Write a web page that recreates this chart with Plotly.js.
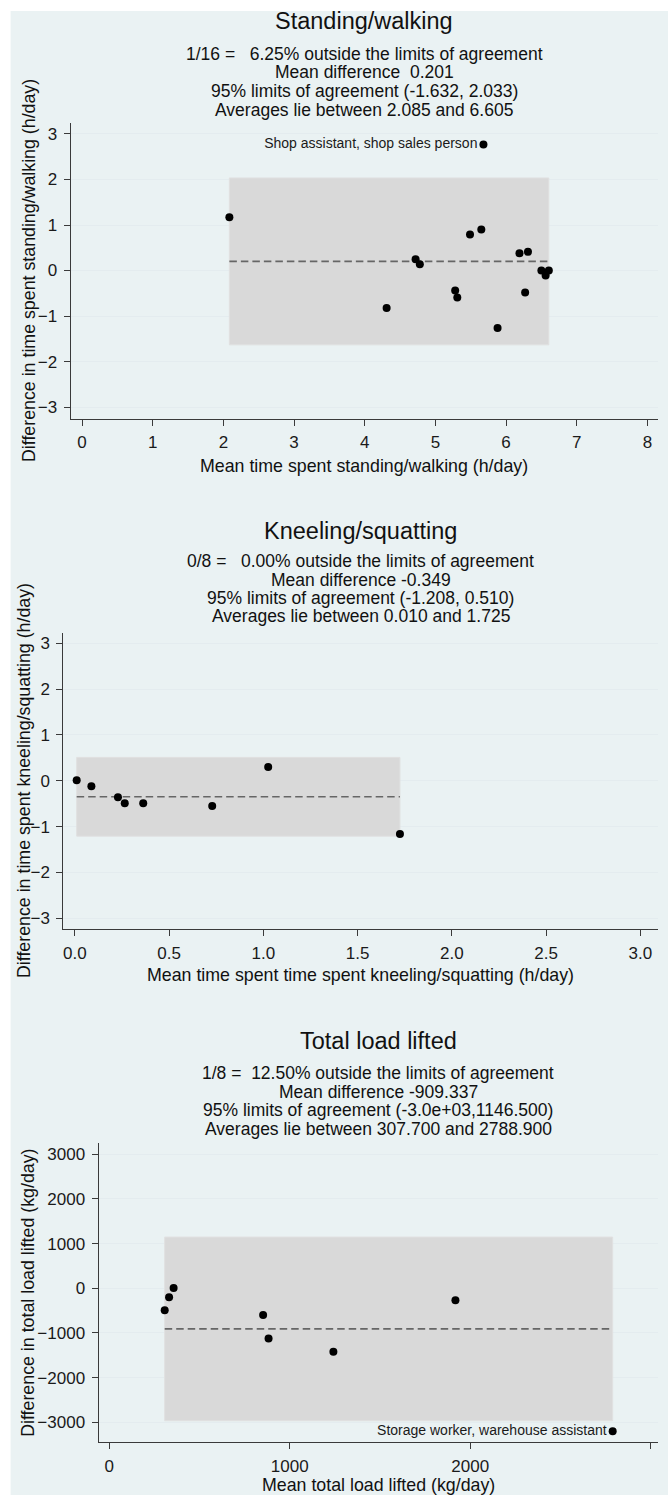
<!DOCTYPE html>
<html><head><meta charset="utf-8">
<script src="https://cdn.plot.ly/plotly-3.0.1.min.js"></script>
<style>html,body{margin:0;padding:0;background:#fff;overflow:hidden}</style>
</head><body><div id="chart" style="width:668px;height:1495px"></div>
<script>
const W = 668, H = 1495;
const NB = "\u00a0";

// ---- Panel 1: Standing/walking ----
const swTitle = "Standing/walking";
const swLines = ["1/16 =" + NB + NB + " 6.25% outside the limits of agreement", "Mean difference " + NB + "0.201", "95% limits of agreement (-1.632, 2.033)", "Averages lie between 2.085 and 6.605"];
const swMean = [5.68, 2.085, 4.31, 4.72, 4.78, 5.28, 5.31, 5.49, 5.65, 5.88, 6.19, 6.31, 6.27, 6.50, 6.56, 6.605];
const swDiff = [2.77, 1.17, -0.82, 0.25, 0.14, -0.44, -0.59, 0.79, 0.90, -1.26, 0.38, 0.41, -0.48, 0.00, -0.11, 0.00];
const swLabels = ["Shop assistant, shop sales person", "", "", "", "", "", "", "", "", "", "", "", "", "", "", ""];
const swMeanDiff = 0.201;
const swLimits = [-1.632, 2.033];
const swAvgRange = [2.085, 6.605];
const swXTicks = [0, 1, 2, 3, 4, 5, 6, 7, 8];
const swYTicks = [-3, -2, -1, 0, 1, 2, 3];
const swXTitle = "Mean time spent standing/walking (h/day)";
const swYTitle = "Difference in time spent standing/walking (h/day)";

// ---- Panel 2: Kneeling/squatting ----
const ksTitle = "Kneeling/squatting";
const ksLines = ["0/8 =" + NB + NB + " 0.00% outside the limits of agreement", "Mean difference -0.349", "95% limits of agreement (-1.208, 0.510)", "Averages lie between 0.010 and 1.725"];
const ksMean = [0.010, 0.088, 0.229, 0.265, 0.363, 0.729, 1.026, 1.725];
const ksDiff = [0.01, -0.12, -0.36, -0.49, -0.49, -0.55, 0.30, -1.16];
const ksMeanDiff = -0.349;
const ksLimits = [-1.208, 0.510];
const ksAvgRange = [0.010, 1.725];
const ksXTicks = [0, 0.5, 1, 1.5, 2, 2.5, 3];
const ksYTicks = [-3, -2, -1, 0, 1, 2, 3];
const ksXTitle = "Mean time spent time spent kneeling/squatting (h/day)";
const ksYTitle = "Difference in time spent kneeling/squatting (h/day)";

// ---- Panel 3: Total load lifted ----
const tlTitle = "Total load lifted";
const tlLines = ["1/8 =" + NB + " 12.50% outside the limits of agreement", "Mean difference -909.337", "95% limits of agreement (-3.0e+03,1146.500)", "Averages lie between 307.700 and 2788.900"];
const tlMean = [307.7, 332, 357, 852.7, 883, 1242, 1918, 2788.9];
const tlDiff = [-494, -202, 7, -599, -1124, -1423, -270, -3200];
const tlLabels = ["", "", "", "", "", "", "", "Storage worker, warehouse assistant"];
const tlMeanDiff = -909.337;
const tlLimits = [-2965.2, 1146.5];
const tlAvgRange = [307.7, 2788.9];
const tlXTicks = [0, 1000, 2000, 3000];
const tlYTicks = [-3000, -2000, -1000, 0, 1000, 2000, 3000];
const tlXTitle = "Mean total load lifted (kg/day)";
const tlYTitle = "Difference in total load lifted (kg/day)";

const FONT = "Liberation Sans, Arial, sans-serif";
const BG = "#eaf2f3";
const px = v => v / W;
const py = v => 1 - v / H;

function panelTraces(xa, ya, mean, diff, labels, md, lim, avg) {
  return [
    {type: "scatter", mode: "lines", xaxis: xa, yaxis: ya,
     x: [avg[0], avg[1], avg[1], avg[0], avg[0]], y: [lim[0], lim[0], lim[1], lim[1], lim[0]],
     fill: "toself", fillcolor: "#d9d9d9", line: {color: "#e0e0e0", width: 1}, hoverinfo: "skip", showlegend: false},
    {type: "scatter", mode: "lines", xaxis: xa, yaxis: ya,
     x: [avg[0], avg[1]], y: [md, md],
     line: {color: "#666666", width: 1.6, dash: "7.5px,4px"}, hoverinfo: "skip", showlegend: false},
    {type: "scatter", mode: labels ? "markers+text" : "markers", xaxis: xa, yaxis: ya,
     x: mean, y: diff, text: labels || undefined, textposition: "middle left",
     textfont: {family: FONT, size: 14, color: "#1a1a1a"},
     marker: {color: "#000", size: 8}, showlegend: false}
  ];
}

const data = [].concat(
  panelTraces("x", "y", swMean, swDiff, swLabels, swMeanDiff, swLimits, swAvgRange),
  panelTraces("x2", "y2", ksMean, ksDiff, null, ksMeanDiff, ksLimits, ksAvgRange),
  panelTraces("x3", "y3", tlMean, tlDiff, tlLabels, tlMeanDiff, tlLimits, tlAvgRange)
);

function xAx(dom, range, ticks, fmt, anchor) {
  return {domain: dom, range: range, tickvals: ticks, tickformat: fmt, anchor: anchor,
    showline: true, linecolor: "#3a3a3a", linewidth: 1, ticks: "outside", ticklen: 6, tickcolor: "#3a3a3a",
    showgrid: false, zeroline: false, tickfont: {family: FONT, size: 17, color: "#1a1a1a"},
    ticklabelstandoff: 2, fixedrange: true};
}
function yAx(dom, range, ticks, anchor) {
  return {domain: dom, range: range, tickvals: ticks, anchor: anchor,
    showline: true, linecolor: "#3a3a3a", linewidth: 1, ticks: "outside", ticklen: 6, tickcolor: "#3a3a3a",
    showgrid: true, gridcolor: "#e4ecef", gridwidth: 1, zeroline: false,
    tickfont: {family: FONT, size: 17, color: "#1a1a1a"}, ticklabelstandoff: 3, fixedrange: true};
}

const p1 = {l: 70.5, r: 658, t: 123, b: 419};
const p2 = {l: 63.3, r: 658, t: 632.7, b: 929.3};
const p3 = {l: 98.5, r: 658, t: 1143.3, b: 1442.3};

const annotations = [];
function addTitles(p, title, titleY, lines, lineY0, xTitle, xTitleY, yTitle, yTitleX) {
  const cx = px((p.l + p.r) / 2);
  annotations.push({xref: "paper", yref: "paper", x: cx, y: py(titleY), text: title, showarrow: false,
    xanchor: "center", yanchor: "middle", borderpad: 0, font: {family: FONT, size: 23.5, color: "#111"}});
  lines.forEach((t, i) => annotations.push({xref: "paper", yref: "paper", x: cx, y: py(lineY0 + i * 18.5), text: t,
    showarrow: false, xanchor: "center", yanchor: "middle", borderpad: 0, font: {family: FONT, size: 17.5, color: "#111"}}));
  annotations.push({xref: "paper", yref: "paper", x: cx, y: py(xTitleY), text: xTitle, showarrow: false,
    xanchor: "center", yanchor: "middle", borderpad: 0, font: {family: FONT, size: 17.8, color: "#111"}});
  annotations.push({xref: "paper", yref: "paper", x: px(yTitleX), y: py((p.t + p.b) / 2), text: yTitle, showarrow: false,
    textangle: -90, xanchor: "center", yanchor: "middle", borderpad: 0, font: {family: FONT, size: 17.8, color: "#111"}});
}
addTitles(p1, swTitle, 21, swLines, 54, swXTitle, 466, swYTitle, 29);
addTitles(p2, ksTitle, 531, ksLines, 561, ksXTitle, 975, ksYTitle, 24);
addTitles(p3, tlTitle, 1041, tlLines, 1073, tlXTitle, 1485, tlYTitle, 28);

const layout = {
  width: W, height: H, margin: {l: 0, r: 0, t: 0, b: 0},
  paper_bgcolor: "#ffffff", plot_bgcolor: "#ffffff", showlegend: false,
  xaxis: xAx([px(p1.l), px(p1.r)], [-0.163, 8.15], swXTicks, "d", "y"),
  yaxis: yAx([py(p1.b), py(p1.t)], [-3.26, 3.24], swYTicks, "x"),
  xaxis2: xAx([px(p2.l), px(p2.r)], [-0.061, 3.094], ksXTicks, ".1f", "y2"),
  yaxis2: yAx([py(p2.b), py(p2.t)], [-3.24, 3.23], ksYTicks, "x2"),
  xaxis3: xAx([px(p3.l), px(p3.r)], [-59, 3040], tlXTicks, "d", "y3"),
  yaxis3: yAx([py(p3.b), py(p3.t)], [-3448, 3246], tlYTicks, "x3"),
  shapes: [{type: "rect", xref: "paper", yref: "paper", x0: px(10.6), x1: 1, y0: 0, y1: py(11),
    fillcolor: BG, line: {width: 0}, layer: "below"}],
  annotations: annotations
};

Plotly.newPlot("chart", data, layout, {displayModeBar: false, staticPlot: true});
</script></body></html>
